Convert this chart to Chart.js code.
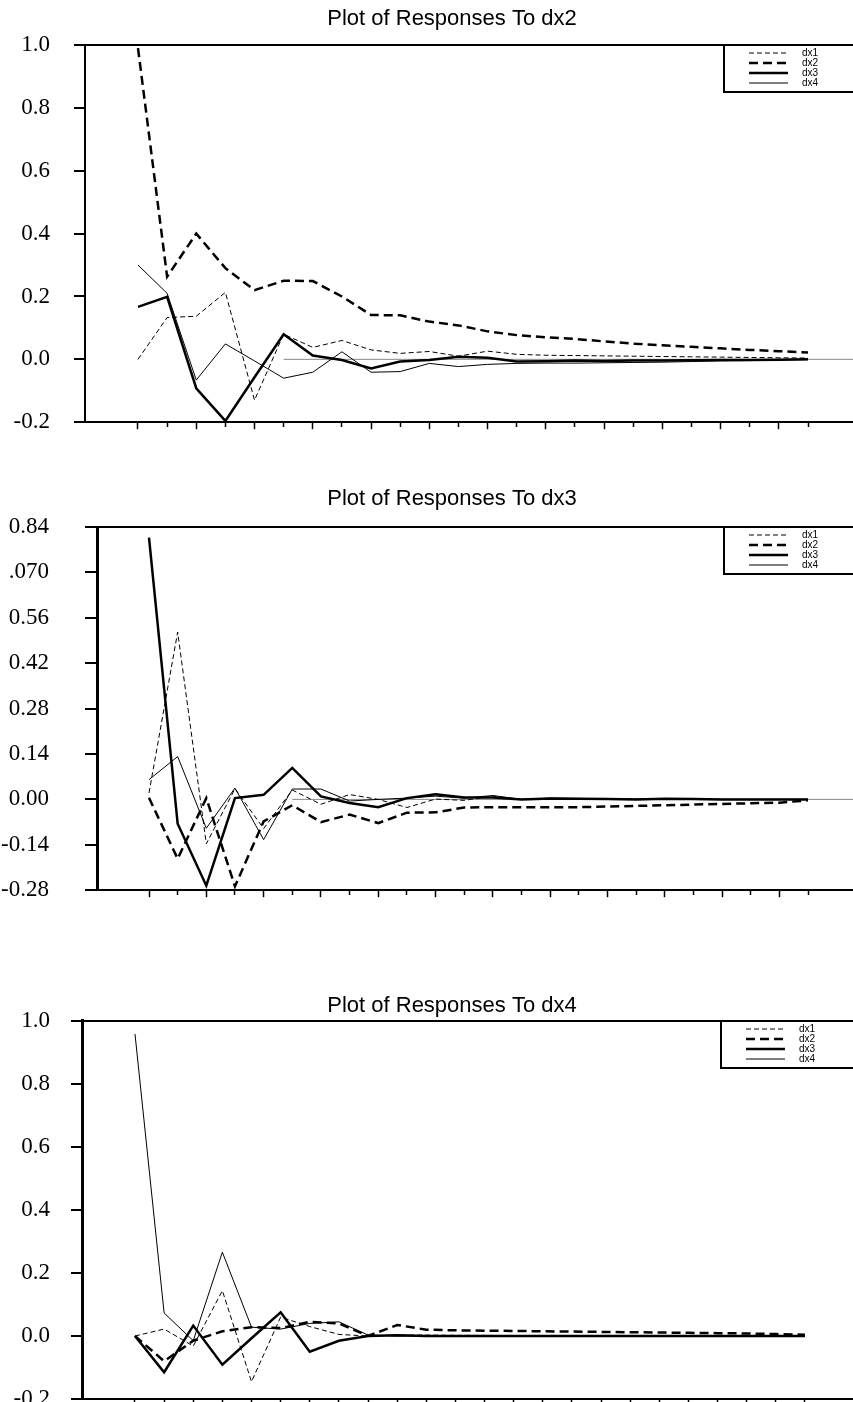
<!DOCTYPE html>
<html>
<head>
<meta charset="utf-8">
<title>Plot of Responses</title>
<script src="https://cdn.jsdelivr.net/npm/chart.js@4.4.1/dist/chart.umd.min.js"></script>
<style>
  html, body { margin: 0; padding: 0; background: #fff; width: 853px; height: 1402px; overflow: hidden; }
  canvas { position: absolute; left: 0; }
</style>
</head>
<body>
<canvas id="chartDx2" width="904" height="460" style="top:0px"></canvas>
<canvas id="chartDx3" width="904" height="470" style="top:470px"></canvas>
<canvas id="chartDx4" width="904" height="480" style="top:960px"></canvas>
<script>
// horizons on the x axis
const steps = [1, 2, 3, 4, 5, 6, 7, 8, 9, 10, 11, 12, 13, 14, 15, 16, 17, 18, 19, 20, 21, 22, 23, 24];
const seriesNames = ['dx1', 'dx2', 'dx3', 'dx4'];

// Responses to dx2
const dx2_dx1 = [0.00, 0.133, 0.137, 0.213, -0.13, 0.08, 0.038, 0.06, 0.03, 0.019, 0.025, 0.01, 0.026, 0.016, 0.013, 0.012, 0.011, 0.01, 0.009, 0.008, 0.007, 0.006, 0.005, 0.004];
const dx2_dx2 = [0.99, 0.263, 0.40, 0.29, 0.22, 0.25, 0.249, 0.20, 0.141, 0.14, 0.12, 0.108, 0.089, 0.077, 0.07, 0.065, 0.057, 0.05, 0.045, 0.04, 0.035, 0.03, 0.026, 0.022];
const dx2_dx3 = [0.167, 0.199, -0.092, -0.196, -0.057, 0.08, 0.012, -0.002, -0.029, -0.007, -0.002, 0.008, 0.005, -0.007, -0.006, -0.004, -0.005, -0.004, -0.004, -0.003, -0.002, -0.002, -0.001, 0.0];
const dx2_dx4 = [0.30, 0.21, -0.066, 0.049, -0.005, -0.06, -0.041, 0.024, -0.041, -0.039, -0.013, -0.023, -0.016, -0.013, -0.012, -0.012, -0.011, -0.01, -0.009, -0.007, -0.005, -0.004, -0.002, -0.001];

// Responses to dx3
const dx3_dx1 = [0.02, 0.516, -0.137, 0.033, -0.09, 0.029, -0.015, 0.015, 0.0, -0.025, 0.001, -0.003, 0.01, 0.0, 0.003, 0.0, 0.002, 0.001, 0.0, 0.0, 0.0, 0.0, 0.0, 0.0];
const dx3_dx2 = [0.005, -0.183, 0.004, -0.268, -0.068, -0.018, -0.07, -0.047, -0.073, -0.041, -0.04, -0.025, -0.024, -0.024, -0.024, -0.024, -0.022, -0.02, -0.018, -0.016, -0.014, -0.012, -0.01, -0.003];
const dx3_dx3 = [0.807, -0.075, -0.266, 0.004, 0.014, 0.097, 0.009, -0.011, -0.024, 0.004, 0.016, 0.006, 0.006, 0.0, 0.003, 0.002, 0.001, 0.0, 0.002, 0.001, 0.0, 0.0, 0.0, 0.0];
const dx3_dx4 = [0.061, 0.132, -0.089, 0.035, -0.124, 0.032, 0.032, -0.005, 0.0, 0.004, 0.01, 0.004, 0.012, 0.0, 0.004, 0.003, 0.002, 0.001, 0.001, 0.0, 0.0, 0.0, 0.0, 0.0];

// Responses to dx4
const dx4_dx1 = [0.0, 0.022, -0.032, 0.144, -0.145, 0.06, 0.03, 0.005, 0.0, 0.003, 0.003, 0.002, 0.002, 0.001, 0.001, 0.001, 0.0, 0.0, 0.0, 0.0, 0.0, 0.0, 0.0, 0.0];
const dx4_dx2 = [0.0, -0.08, -0.015, 0.015, 0.028, 0.025, 0.045, 0.04, 0.0, 0.035, 0.02, 0.018, 0.017, 0.016, 0.015, 0.014, 0.013, 0.012, 0.011, 0.01, 0.009, 0.008, 0.006, 0.004];
const dx4_dx3 = [0.0, -0.115, 0.033, -0.091, -0.007, 0.075, -0.05, -0.015, 0.0, 0.002, 0.0, 0.0, 0.0, 0.0, 0.0, 0.0, 0.0, 0.0, 0.0, 0.0, 0.0, 0.0, 0.0, 0.0];
const dx4_dx4 = [0.959, 0.073, -0.015, 0.266, 0.028, 0.022, 0.04, 0.045, 0.003, 0.0, 0.0, 0.0, 0.0, 0.0, 0.0, 0.0, 0.0, 0.0, 0.0, 0.0, 0.0, 0.0, 0.0, 0.0];

// y axis ticks and their printed labels
const yTicksA = [-0.2, 0.0, 0.2, 0.4, 0.6, 0.8, 1.0];
const yLabelsA = ['-0.2', '0.0', '0.2', '0.4', '0.6', '0.8', '1.0'];
const yTicksB = [-0.28, -0.14, 0.0, 0.14, 0.28, 0.42, 0.56, 0.70, 0.84];
const yLabelsB = ['-0.28', '-0.14', '0.00', '0.14', '0.28', '0.42', '0.56', '.070', '0.84'];

const lineStyles = [
    { width: 1, dash: [5, 3] },
    { width: 2.5, dash: [9, 5] },
    { width: 2.5, dash: [] },
    { width: 1, dash: [] }
];

// legend box drawn in the top right corner of the plot
const boxLegend = {
    id: 'boxLegend',
    afterDatasetsDraw(chart, args, opts) {
        const ctx = chart.ctx;
        const top = chart.chartArea.top;
        const left = opts.x;
        ctx.save();
        ctx.strokeStyle = '#000';
        ctx.lineWidth = 2;
        ctx.setLineDash([]);
        ctx.beginPath();
        ctx.moveTo(left, top);
        ctx.lineTo(left, top + 47);
        ctx.lineTo(chart.width, top + 47);
        ctx.stroke();
        ctx.font = '10px "Liberation Sans", Arial, sans-serif';
        ctx.fillStyle = '#000';
        ctx.textBaseline = 'middle';
        chart.data.datasets.filter(d => seriesNames.includes(d.label)).forEach((d, k) => {
            const y = top + 8 + k * 10;
            ctx.lineWidth = d.borderWidth;
            ctx.setLineDash(d.borderDash);
            ctx.beginPath();
            ctx.moveTo(left + 25, y);
            ctx.lineTo(left + 64, y);
            ctx.stroke();
            ctx.fillText(d.label, left + 78, y);
        });
        ctx.restore();
    }
};

function makeDatasets(series, zeroFrom, xMax) {
    const sets = series.map((values, k) => ({
        label: seriesNames[k],
        data: values.map((v, i) => ({ x: steps[i], y: v })),
        borderColor: '#000',
        borderWidth: lineStyles[k].width,
        borderDash: lineStyles[k].dash,
        pointRadius: 0,
        tension: 0,
        fill: false
    }));
    if (zeroFrom !== null) {
        sets.push({
            label: 'zero',
            data: [{ x: zeroFrom, y: 0 }, { x: xMax, y: 0 }],
            borderColor: '#888',
            borderWidth: 1,
            pointRadius: 0,
            order: 10
        });
    }
    return sets;
}

function makeChart(id, p) {
    const labelFor = v => {
        const i = p.yTicks.findIndex(t => Math.abs(t - v) < 1e-9);
        return i >= 0 ? p.yLabels[i] : '';
    };
    return new Chart(document.getElementById(id), {
        type: 'line',
        data: { datasets: makeDatasets(p.series, p.zeroFrom, p.xMax) },
        plugins: [boxLegend],
        options: {
            responsive: false,
            animation: false,
            devicePixelRatio: 1,
            layout: { padding: { left: 0, right: 0, top: 0, bottom: p.padBottom } },
            plugins: {
                legend: { display: false },
                tooltip: { enabled: false },
                title: {
                    display: true,
                    text: p.title,
                    color: '#000',
                    font: { family: '"Liberation Sans", Arial, sans-serif', size: 22, weight: 'normal', lineHeight: 1.2 },
                    padding: { top: p.titleTop, bottom: p.titleBottom }
                },
                boxLegend: { x: p.legendX }
            },
            scales: {
                x: {
                    type: 'linear',
                    min: p.xMin,
                    max: p.xMax,
                    afterBuildTicks: s => { s.ticks = steps.map(v => ({ value: v })); },
                    ticks: { display: false },
                    grid: {
                        drawOnChartArea: false,
                        drawTicks: true,
                        tickLength: 7,
                        tickColor: '#000',
                        tickWidth: 1.5,
                        // every other tick is drawn short
                        tickBorderDash: c => (c.tick && c.tick.value % 2 === 0) ? [4, 10] : []
                    },
                    border: { display: true, color: '#000', width: 2 }
                },
                y: {
                    min: p.yTicks[0],
                    max: p.yTicks[p.yTicks.length - 1],
                    afterBuildTicks: s => { s.ticks = p.yTicks.map(v => ({ value: v })); },
                    afterFit: s => { s.width = p.axisWidth; },
                    ticks: {
                        callback: v => labelFor(v),
                        color: '#000',
                        padding: p.labelPad,
                        autoSkip: false,
                        font: { family: '"Liberation Serif", "Times New Roman", serif', size: 23 }
                    },
                    grid: {
                        drawOnChartArea: true,
                        color: c => (c.tick && Math.abs(c.tick.value - p.yTicks[p.yTicks.length - 1]) < 1e-9) ? '#000' : 'rgba(0,0,0,0)',
                        lineWidth: 2,
                        tickLength: p.tickLen,
                        tickColor: '#000',
                        tickWidth: 2
                    },
                    border: { display: true, color: '#000', width: p.axisLine }
                }
            }
        }
    });
}

makeChart('chartDx2', {
    title: 'Plot of Responses To dx2',
    series: [dx2_dx1, dx2_dx2, dx2_dx3, dx2_dx4],
    yTicks: yTicksA, yLabels: yLabelsA,
    xMin: -0.819, xMax: 27.295, zeroFrom: 6,
    axisWidth: 85, tickLen: 11, labelPad: 24, axisLine: 2,
    titleTop: 5.8, titleBottom: 12.8, padBottom: 29,
    legendX: 724
});

makeChart('chartDx3', {
    title: 'Plot of Responses To dx3',
    series: [dx3_dx1, dx3_dx2, dx3_dx3, dx3_dx4],
    yTicks: yTicksB, yLabels: yLabelsB,
    xMin: -0.815, xMax: 27.35, zeroFrom: 6,
    axisWidth: 97, tickLen: 12, labelPad: 36, axisLine: 3,
    titleTop: 15.8, titleBottom: 14.8, padBottom: 26,
    legendX: 724
});

makeChart('chartDx4', {
    title: 'Plot of Responses To dx4',
    series: [dx4_dx1, dx4_dx2, dx4_dx3, dx4_dx4],
    yTicks: yTicksA, yLabels: yLabelsA,
    xMin: -0.819, xMax: 27.4, zeroFrom: null,
    axisWidth: 82, tickLen: 11, labelPad: 21, axisLine: 3,
    titleTop: 32.8, titleBottom: 1.8, padBottom: 34,
    legendX: 721
});
</script>
</body>
</html>
